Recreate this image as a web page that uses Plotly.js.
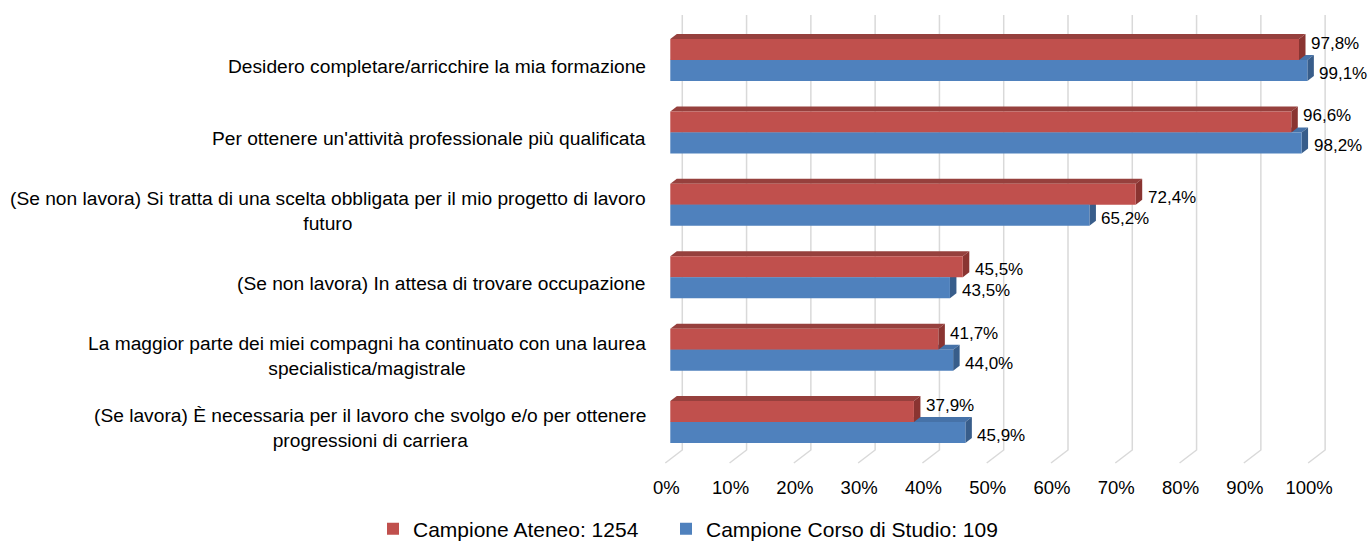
<!DOCTYPE html>
<html>
<head>
<meta charset="utf-8">
<script src="https://cdn.plot.ly/plotly-3.0.1.min.js"></script>
<style>html,body{margin:0;padding:0;background:#fff;}#chart{width:1370px;height:541px;}</style>
</head>
<body>
<div id="chart"></div>
<script>
// ---- data ----
const categories = [
  "Desidero completare/arricchire la mia formazione",
  "Per ottenere un'attività professionale più qualificata",
  "(Se non lavora) Si tratta di una scelta obbligata per il mio progetto di lavoro<br>futuro",
  "(Se non lavora) In attesa di trovare occupazione",
  "La maggior parte dei miei compagni ha continuato con una laurea<br>specialistica/magistrale",
  "(Se lavora) È necessaria per il lavoro che svolgo e/o per ottenere<br>progressioni di carriera"
];
const ateneo = [97.8, 96.6, 72.4, 45.5, 41.7, 37.9];
const corso  = [99.1, 98.2, 65.2, 43.5, 44.0, 45.9];
const seriesNames = ["Campione Ateneo: 1254", "Campione Corso di Studio: 109"];
const tickValues = [0, 10, 20, 30, 40, 50, 60, 70, 80, 90, 100];
const tickLabels = ["0%", "10%", "20%", "30%", "40%", "50%", "60%", "70%", "80%", "90%", "100%"];

// ---- style ----
const FONT = "Liberation Sans, Arial, sans-serif";
const RED = "#C0504D", RED_TOP = "#96403D", RED_SIDE = "#8A3431";
const BLUE = "#4F81BD", BLUE_TOP = "#4672A8", BLUE_SIDE = "#385D8A";
const XMIN = -3, XMAX = 102;
const L = 651, R = 44, T = 15, B = 91;
const W = 1370, H = 541;
const plotW = W - L - R, plotH = H - T - B;
const pxX = plotW / (XMAX - XMIN);           // px per x unit
const YTOP = -0.622, YBOT = 5.386;
const pxY = plotH / (YBOT - YTOP);           // px per category unit
const BARGAP = 0.42;
const w = (1 - BARGAP) / 2;                  // bar thickness in category units
const dx = 6.5 / pxX, dy = 5 / pxY;          // 3D depth
const gridOff = 12 / pxX;                    // back wall offset
const slantX = 17 / pxX, slantY = 13 / plotH;

const fmt = v => v.toFixed(1).replace('.', ',') + '%';

const traces = [
  {type: 'bar', orientation: 'h', name: seriesNames[0], y: categories, x: ateneo,
   marker: {color: RED, line: {width: 0}}, hoverinfo: 'x+name', legendwidth: 248},
  {type: 'bar', orientation: 'h', name: seriesNames[1], y: categories, x: corso,
   marker: {color: BLUE, line: {width: 0}}, hoverinfo: 'x+name'}
];

const shapes = [];
// back-wall gridlines with slanted floor edge
tickValues.forEach(t => {
  const xb = t + gridOff;
  shapes.push({type: 'path', xref: 'x', yref: 'paper', layer: 'below',
    path: `M ${xb},1 L ${xb},0 L ${xb - slantX},${-slantY}`,
    line: {color: '#D9D9D9', width: 1.5}});
});
// 3D faces
const poly = pts => 'M ' + pts.map(p => p[0] + ',' + p[1]).join(' L ') + ' Z';
categories.forEach((c, i) => {
  const xb = corso[i], xr = ateneo[i];
  shapes.push({type: 'path', xref: 'x', yref: 'y', layer: 'between', line: {width: 0},
    fillcolor: BLUE_TOP,
    path: poly([[0, i], [xb, i], [xb + dx, i - dy], [dx, i - dy]])});
  shapes.push({type: 'path', xref: 'x', yref: 'y', layer: 'between', line: {width: 0},
    fillcolor: BLUE_SIDE,
    path: poly([[xb, i], [xb, i + w], [xb + dx, i + w - dy], [xb + dx, i - dy]])});
  shapes.push({type: 'path', xref: 'x', yref: 'y', layer: 'between', line: {width: 0},
    fillcolor: RED_TOP,
    path: poly([[0, i - w], [xr, i - w], [xr + dx, i - w - dy], [dx, i - w - dy]])});
  shapes.push({type: 'path', xref: 'x', yref: 'y', layer: 'between', line: {width: 0},
    fillcolor: RED_SIDE,
    path: poly([[xr, i - w], [xr, i], [xr + dx, i - dy], [xr + dx, i - w - dy]])});
});

const annotations = [];
categories.forEach((c, i) => {
  annotations.push({xref: 'paper', yref: 'y', x: 0, y: i, xanchor: 'right', yanchor: 'middle',
    xshift: -3, yshift: -6, align: 'center', showarrow: false, text: c,
    font: {family: FONT, size: 19.2, color: '#000'}});
  annotations.push({xref: 'x', yref: 'y', x: ateneo[i], y: i - w / 2, xanchor: 'left', yanchor: 'middle',
    xshift: 10, yshift: corso[i] > ateneo[i] ? 6 : -3, showarrow: false, text: fmt(ateneo[i]),
    font: {family: FONT, size: 17, color: '#000'}});
  annotations.push({xref: 'x', yref: 'y', x: corso[i], y: i + w / 2, xanchor: 'left', yanchor: 'middle',
    xshift: 10, yshift: -3, showarrow: false, text: fmt(corso[i]),
    font: {family: FONT, size: 17, color: '#000'}});
});

const layout = {
  width: W, height: H,
  margin: {l: L, r: R, t: T, b: B, pad: 0},
  paper_bgcolor: '#fff', plot_bgcolor: 'rgba(0,0,0,0)',
  font: {family: FONT, size: 17, color: '#000'},
  barmode: 'group', bargap: BARGAP, bargroupgap: 0,
  xaxis: {range: [XMIN, XMAX], tickvals: tickValues, ticktext: tickLabels,
    showgrid: false, zeroline: false, showline: false, ticks: '',
    tickfont: {family: FONT, size: 18.5, color: '#000'},
    ticklabelstandoff: 24, ticklabelshift: -4, fixedrange: true},
  yaxis: {type: 'category', categoryorder: 'array', categoryarray: categories,
    range: [YBOT, YTOP], showticklabels: false, showgrid: false, zeroline: false,
    showline: false, ticks: '', fixedrange: true},
  showlegend: true,
  legend: {orientation: 'h', xref: 'container', yref: 'container', x: 373 / W, y: 0.022,
    xanchor: 'left', yanchor: 'middle',
    font: {family: FONT, size: 21, color: '#000'},
    itemclick: false, itemdoubleclick: false},
  shapes: shapes,
  annotations: annotations
};

Plotly.newPlot('chart', traces, layout, {displayModeBar: false, staticPlot: true});
</script>
</body>
</html>
